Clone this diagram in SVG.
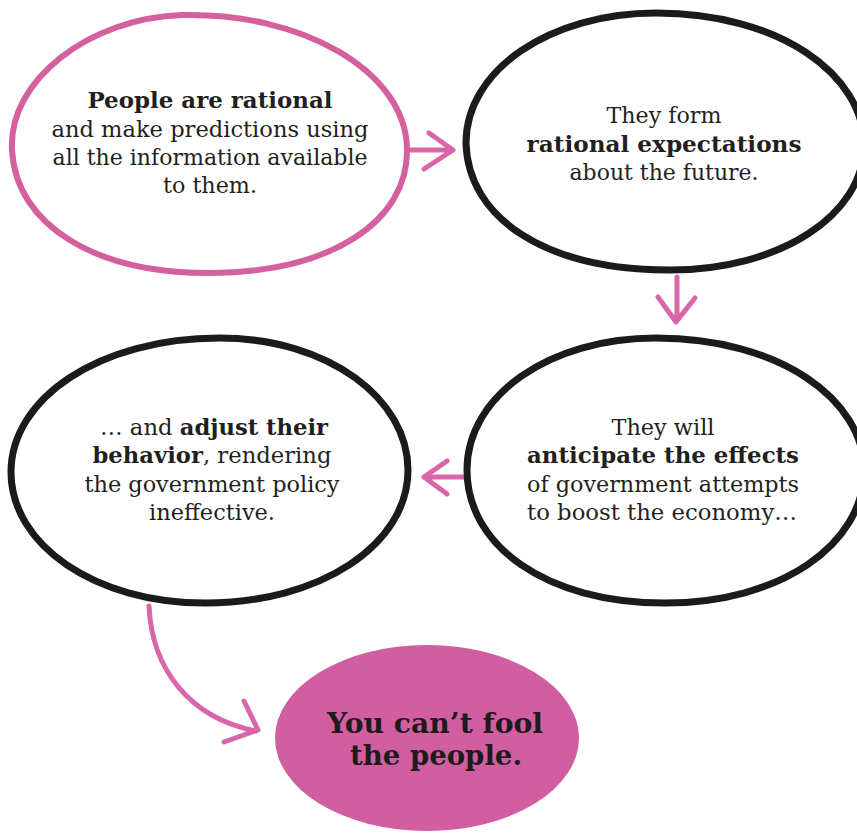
<svg xmlns="http://www.w3.org/2000/svg" width="857" height="836" viewBox="0 0 857 836">
<defs>
<style>
.bg{fill:#ffffff}
.ring-pink{fill:none;stroke:#d4609e;stroke-width:6;stroke-linecap:round}
.ring-black{fill:none;stroke:#1c1a1b;stroke-width:7;stroke-linecap:round}
.conn{fill:none;stroke:#d866a8;stroke-width:5;stroke-linecap:round;stroke-linejoin:round}
.t{font-family:"DejaVu Serif","Liberation Serif",serif;font-size:22.5px;fill:#231f20;text-anchor:middle}
.b{font-weight:bold}
.final{font-family:"DejaVu Serif","Liberation Serif",serif;font-size:28px;font-weight:900;fill:#1f1a1c;text-anchor:middle}
</style>
</defs>
<rect class="bg" x="0" y="0" width="857" height="836"/>

<g id="connectors">
<path class="conn" d="M409,150 L451,150 M429,133 L453,150 L424,169"/>
<path class="conn" d="M677,277 L677,320 M658,297 L676,322 L695,298"/>
<path class="conn" d="M466,477 L426,477 M447,461 L424,477 L447,494"/>
<path class="conn" d="M149,606 C152,670 190,718 256,731 M244,701 L258,730 L224,742"/>
</g>

<g id="node-rational">
<path class="ring-pink" d="M12,150 C8,80 90,18 182,15 C300,12 405,70 407,148 C409,222 330,272 212,273 C95,274 16,225 12,150 Z"/>
<text class="t" x="210" y="108" textLength="245" lengthAdjust="spacingAndGlyphs"><tspan class="b">People are rational</tspan></text>
<text class="t" x="210" y="137" textLength="317" lengthAdjust="spacingAndGlyphs">and make predictions using</text>
<text class="t" x="210" y="165" textLength="315" lengthAdjust="spacingAndGlyphs">all the information available</text>
<text class="t" x="210" y="193" textLength="94" lengthAdjust="spacingAndGlyphs">to them.</text>
</g>

<g id="node-expectations">
<path class="ring-black" d="M466,143 C466,70 550,13 656,13 C780,13 864,75 864,145 C864,215 780,270 670,270 C545,270 468,218 466,143 Z"/>
<text class="t" x="664" y="123" textLength="115" lengthAdjust="spacingAndGlyphs">They form</text>
<text class="t b" x="664" y="152" textLength="275" lengthAdjust="spacingAndGlyphs">rational expectations</text>
<text class="t" x="664" y="180" textLength="189" lengthAdjust="spacingAndGlyphs">about the future.</text>
</g>

<g id="node-anticipate">
<path class="ring-black" d="M467,470 C467,395 550,338 656,338 C780,338 864,400 864,470 C864,545 780,603 665,603 C545,603 467,545 467,470 Z"/>
<text class="t" x="663" y="435" textLength="103" lengthAdjust="spacingAndGlyphs">They will</text>
<text class="t b" x="663" y="463" textLength="272" lengthAdjust="spacingAndGlyphs">anticipate the effects</text>
<text class="t" x="663" y="492" textLength="272" lengthAdjust="spacingAndGlyphs">of government attempts</text>
<text class="t" x="662" y="520" textLength="270" lengthAdjust="spacingAndGlyphs">to boost the economy…</text>
</g>

<g id="node-adjust">
<path class="ring-black" d="M11,472 C11,398 100,338 219,338 C330,338 408,400 408,470 C408,545 320,603 205,603 C95,603 11,545 11,472 Z"/>
<text class="t" x="214" y="435" textLength="228" lengthAdjust="spacingAndGlyphs">… and <tspan class="b">adjust their</tspan></text>
<text class="t" x="212" y="463" textLength="239" lengthAdjust="spacingAndGlyphs"><tspan class="b">behavior</tspan>, rendering</text>
<text class="t" x="212" y="492" textLength="255" lengthAdjust="spacingAndGlyphs">the government policy</text>
<text class="t" x="212" y="520" textLength="126" lengthAdjust="spacingAndGlyphs">ineffective.</text>
</g>

<g id="node-conclusion">
<ellipse cx="427" cy="738" rx="152" ry="93" fill="#d05ea0"/>
<text class="final" x="435" y="733" textLength="216" lengthAdjust="spacingAndGlyphs">You can’t fool</text>
<text class="final" x="436" y="765" textLength="172" lengthAdjust="spacingAndGlyphs">the people.</text>
</g>
</svg>
